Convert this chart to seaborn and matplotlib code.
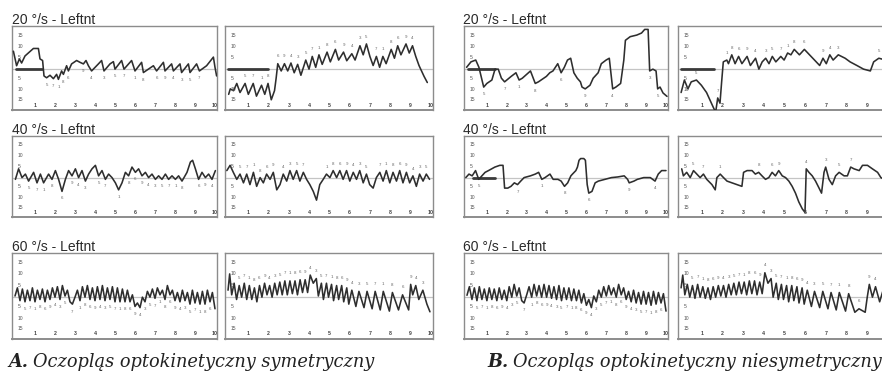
import numpy as np
import pandas as pd
import matplotlib
matplotlib.use("Agg")
import matplotlib.pyplot as plt
import seaborn as sns

sns.set_theme(style="white")
plt.rcParams['font.family'] = ['Liberation Sans', 'DejaVu Sans']

# ---------------- data (time [s], eye velocity) ----------------
row_titles = ["20 °/s - Leftnt", "40 °/s - Leftnt", "60 °/s - Leftnt"]
captions = [("A.", "Oczopląs optokinetyczny symetryczny"),
            ("B.", "Oczopląs optokinetyczny niesymetryczny")]
x_tick_labels = ["1", "2", "3", "4", "5", "6", "7", "8", "9", "10"]
y_tick_labels = ["15", "10", "5", "5", "10", "15"]
mark_digits = ["5", "7", "1", "8", "6", "9", "4", "3"]

# A, 20 deg/s, left eye
a20_l = [(-0.08,7.9),(0.08,1.5),(0.22,4.5),(0.33,2.7),(0.5,5.8),(0.92,9.1),(1.17,9.1),(1.25,4.5),
         (1.38,3.8),(1.45,-3),(1.58,-3.8),(1.75,-2.7),(1.92,-4.2),(2.08,-2.3),(2.17,-4.5),(2.33,-0.8),
         (2.42,-2.3),(2.58,1.5),(2.67,-0.8),(2.83,2.3),(3.08,3.8),(3.25,3.0),(3.42,2.3),(3.55,3.8),
         (3.67,1.5),(3.83,-0.8),(4.17,2.3),(4.33,3.8),(4.45,-0.8),(4.75,2.3),(4.92,3.3),(5.0,0.0),
         (5.33,3.8),(5.45,0.0),(5.83,3.8),(6.0,-0.8),(6.33,3.0),(6.42,-1.5),(6.92,1.5),(7.08,-0.8),
         (7.42,3.0),(7.5,-0.8),(7.83,2.3),(7.92,-0.8),(8.25,2.3),(8.33,-1.5),(8.67,2.3),(8.75,-1.5),
         (9.08,2.3),(9.22,-0.8),(9.58,1.5),(9.92,5.3),(10.0,0.8),(10.08,-3.0)]
# A, 20 deg/s, right eye
a20_r = [(0.03,-11.1),(0.11,-8.7),(0.27,-9.5),(0.43,-6.3),(0.59,-10.3),(0.84,-6.3),(1.0,-11.1),
         (1.24,-6.3),(1.4,-11.9),(1.65,-7.1),(1.81,-11.1),(1.97,-6.3),(2.13,-13.5),(2.29,-9.5),
         (2.37,-4.0),(2.45,2.4),(2.62,-0.8),(2.78,2.4),(2.94,-0.8),(3.1,2.7),(3.26,-1.6),(3.43,2.1),
         (3.59,-2.7),(3.83,4.0),(3.99,0.0),(4.15,5.6),(4.32,0.8),(4.48,6.3),(4.64,2.1),(4.88,7.5),
         (5.04,3.2),(5.29,8.7),(5.45,4.0),(5.69,7.5),(5.85,3.7),(6.1,6.8),(6.26,4.0),(6.5,10.3),
         (6.66,6.3),(6.82,11.1),(6.99,5.6),(7.15,1.6),(7.31,5.6),(7.47,0.8),(7.63,5.6),(7.79,2.4),
         (8.04,8.7),(8.2,4.8),(8.36,10.3),(8.52,6.3),(8.77,11.1),(8.93,7.1),(9.09,10.3),(9.25,5.6),
         (9.41,1.6),(9.66,-3.2),(9.82,-5.9)]
# B, 20 deg/s, left eye
b20_l = [(-0.02,0.8),(0.2,3.2),(0.44,4.0),(0.6,0.8),(0.84,-7.9),(1.0,-6.3),(1.25,-4.8),(1.41,0.0),
         (1.57,0.0),(1.73,-4.0),(1.89,-5.6),(2.22,-3.2),(2.46,-1.6),(2.62,-4.8),(2.78,-4.0),(3.19,-0.8),
         (3.43,-6.3),(3.59,-5.6),(3.99,-3.2),(4.16,-1.6),(4.32,-0.8),(4.56,2.4),(4.73,-1.6),(4.89,0.8),
         (5.05,4.0),(5.21,4.8),(5.37,-1.6),(5.54,-4.0),(5.7,-5.6),(5.78,-7.9),(5.94,-8.7),(6.18,-7.1),
         (6.34,-4.0),(6.59,-1.6),(6.75,2.4),(6.99,4.0),(7.15,4.8),(7.32,-8.7),(7.48,-7.9),(7.72,-6.3),
         (7.88,4.0),(7.96,12.7),(8.2,14.3),(8.53,15.0),(8.77,15.9),(8.93,17.5),(9.1,17.5),(9.18,-0.8),
         (9.34,0.0),(9.5,-0.8),(9.58,-8.7),(9.7,-7.9),(9.85,-10.5),(10.05,-12.0)]
# B, 20 deg/s, right eye
b20_r = [(0.0,-10.3),(0.16,-4.8),(0.33,-8.7),(0.49,-5.6),(0.74,-4.8),(0.98,-7.1),(1.23,-10.3),
         (1.39,-13.5),(1.55,-16.7),(1.67,-19.0),(1.77,-12.7),(1.88,-15.0),(1.96,-5.6),(2.04,3.2),
         (2.21,4.0),(2.29,2.4),(2.45,6.3),(2.61,2.4),(2.78,5.6),(2.94,2.4),(3.19,5.6),(3.35,1.6),
         (3.6,4.8),(3.76,0.0),(3.92,3.2),(4.09,4.8),(4.25,2.4),(4.41,5.6),(4.58,3.2),(4.82,5.6),
         (4.98,4.0),(5.15,7.1),(5.31,6.3),(5.47,8.7),(5.72,6.3),(5.96,8.7),(6.21,6.3),(6.45,4.0),
         (6.7,1.6),(6.86,4.8),(7.02,2.4),(7.19,6.3),(7.35,4.0),(7.6,6.3),(7.93,4.8),(8.17,3.2),
         (8.5,1.6),(8.82,0.0),(9.15,-0.8),(9.31,3.2),(9.56,4.8),(9.89,4.0)]
# A, 40 deg/s, left eye
a40_l = [(0.02,-0.8),(0.18,4.0),(0.35,0.0),(0.52,1.6),(0.68,-1.6),(0.93,2.4),(1.1,-2.4),(1.27,1.6),
         (1.43,-2.4),(1.68,1.6),(1.85,-0.8),(2.02,3.2),(2.18,-0.8),(2.35,-6.3),(2.52,-0.8),(2.68,3.2),
         (2.85,0.8),(3.02,4.0),(3.18,0.0),(3.35,3.2),(3.52,-1.6),(3.68,1.6),(3.85,4.0),(4.02,5.6),
         (4.18,0.8),(4.35,3.2),(4.52,-0.8),(4.68,1.6),(4.85,0.0),(5.02,-2.4),(5.18,-5.6),(5.35,-2.4),
         (5.52,2.4),(5.68,0.8),(5.85,4.8),(6.02,2.4),(6.18,4.0),(6.35,0.8),(6.52,2.4),(6.68,0.0),
         (6.85,1.6),(7.02,-0.8),(7.18,0.8),(7.35,-0.8),(7.52,1.6),(7.68,-0.8),(7.85,0.8),(8.02,-0.8),
         (8.18,0.8),(8.35,-1.6),(8.6,2.4),(8.77,7.1),(8.88,7.9),(9.02,4.0),(9.18,-0.8),(9.35,2.4),
         (9.52,0.0),(9.68,1.6),(9.85,-0.8),(10.02,3.2)]
# A, 40 deg/s, right eye
a40_r = [(-0.06,3.2),(0.1,5.6),(0.26,2.4),(0.43,-0.8),(0.59,1.6),(0.76,-2.4),(0.92,1.6),(1.08,-3.2),
         (1.25,2.4),(1.41,-4.0),(1.58,0.0),(1.74,-2.4),(1.9,1.6),(2.07,-0.8),(2.23,2.4),(2.4,-5.6),
         (2.56,-3.2),(2.72,1.6),(2.89,-1.6),(3.05,3.2),(3.21,-0.8),(3.38,3.2),(3.54,-1.6),(3.71,2.4),
         (3.87,-0.8),(4.03,-3.2),(4.2,-6.3),(4.36,-10.3),(4.52,-3.2),(4.69,-0.8),(4.85,1.6),(5.02,0.0),
         (5.18,3.2),(5.35,0.0),(5.51,3.2),(5.67,-0.8),(5.84,3.2),(6.0,-1.6),(6.17,2.4),(6.33,-0.8),
         (6.49,3.2),(6.66,-2.4),(6.82,1.6),(6.98,-3.2),(7.15,-4.8),(7.31,0.0),(7.48,2.4),(7.64,-1.6),
         (7.8,3.2),(7.97,-2.4),(8.13,2.4),(8.3,-1.6),(8.46,3.2),(8.62,-2.4),(8.79,2.4),(8.95,-2.4),
         (9.11,0.8),(9.28,-4.0),(9.44,1.6),(9.61,-1.6),(9.77,1.6),(9.93,-0.8)]
# B, 40 deg/s, left eye
b40_l = [(-0.06,0.0),(0.1,1.6),(0.26,0.8),(0.43,3.2),(0.59,-0.8),(0.75,0.8),(0.91,2.4),(1.08,3.2),
         (1.4,4.8),(1.65,5.6),(1.81,5.6),(1.89,-4.8),(2.05,-4.8),(2.21,-4.0),(2.38,-2.4),(2.54,-3.2),
         (2.7,-1.6),(2.87,0.0),(3.19,0.8),(3.43,1.6),(3.6,2.4),(3.76,-0.8),(3.92,0.0),(4.17,1.6),
         (4.33,-0.8),(4.57,-0.8),(4.73,-1.6),(4.9,-4.0),(5.06,-2.4),(5.22,0.8),(5.3,1.6),(5.47,3.2),
         (5.55,4.8),(5.63,7.9),(5.71,8.7),(5.87,8.7),(5.95,7.9),(6.04,-3.2),(6.12,-7.1),(6.28,-6.3),
         (6.44,-2.4),(6.6,-1.6),(6.93,-0.8),(7.26,0.0),(7.58,0.3),(7.9,0.8),(8.07,-0.8),(8.15,-2.4),
         (8.39,-1.6),(8.56,-0.8),(8.88,0.0),(9.21,0.0),(9.45,-1.6),(9.61,1.6),(9.78,3.2),(10.0,3.2)]
# B, 40 deg/s, right eye
b40_r = [(0.03,4.0),(0.11,0.8),(0.27,2.4),(0.44,0.0),(0.6,3.2),(0.76,1.6),(0.92,0.0),(1.08,1.6),
         (1.24,-0.8),(1.49,-3.2),(1.65,-5.6),(1.73,0.0),(1.89,1.6),(2.05,0.0),(2.22,-1.6),(2.46,-2.4),
         (2.7,-3.2),(2.94,-4.0),(3.02,2.4),(3.19,3.2),(3.43,3.2),(3.59,1.6),(3.75,2.4),(3.91,0.8),
         (4.08,-0.8),(4.24,0.0),(4.4,2.4),(4.56,0.8),(4.72,3.2),(4.89,0.8),(5.05,0.0),(5.21,-1.6),
         (5.37,-4.0),(5.53,-7.1),(5.69,-11.1),(5.86,-14.3),(5.99,-15.9),(6.05,4.0),(6.18,2.4),
         (6.34,0.8),(6.5,-1.6),(6.67,-4.8),(6.79,-7.1),(6.91,2.4),(6.99,4.8),(7.15,-0.8),(7.31,-3.2),
         (7.47,0.8),(7.64,2.4),(7.88,0.8),(8.04,0.8),(8.2,4.8),(8.36,4.0),(8.61,3.2),(8.77,5.6),
         (9.01,5.6),(9.25,4.0),(9.5,2.4),(9.66,0.0),(9.82,-0.8)]
# A, 60 deg/s, left eye
a60_l = [(0.0,0.5),(0.12,4),(0.25,-1.5),(0.37,3.5),(0.5,-2),(0.62,3),(0.75,-1.5),(0.87,4),(1.0,-2),
         (1.12,3),(1.25,-1),(1.37,3.5),(1.5,-2),(1.62,3),(1.75,-1),(1.87,4),(2.0,0),(2.12,4.5),
         (2.25,-1),(2.37,5),(2.5,0.5),(2.62,3),(2.75,-2),(2.87,-3),(3.0,0),(3.12,3),(3.25,-1.5),
         (3.37,4.5),(3.5,0),(3.62,5),(3.75,-1),(3.87,4),(4.0,-1.5),(4.12,4.5),(4.25,-1),(4.37,5),
         (4.5,-1.5),(4.62,4),(4.75,-1),(4.87,4.5),(5.0,-2),(5.12,4),(5.25,-2),(5.37,3.5),(5.5,-2),
         (5.62,3),(5.75,-2),(5.87,1),(6.0,-4),(6.12,-2.5),(6.25,-4.5),(6.37,0),(6.5,-2),(6.62,2.5),
         (6.75,0),(6.87,3.5),(7.0,-0.5),(7.12,4),(7.25,1),(7.37,3),(7.5,-1),(7.62,5),(7.75,1),(7.87,3),
         (8.0,-1.5),(8.12,2),(8.25,-2),(8.37,3),(8.5,-1.5),(8.62,2),(8.75,-3),(8.87,3),(9.0,-2.5),
         (9.12,2),(9.25,-3),(9.37,2.5),(9.5,-3),(9.62,3),(9.75,-2),(9.87,2),(10.0,-5)]
# A, 60 deg/s, right eye
a60_r = [(0.0,3),(0.08,10),(0.18,1),(0.3,6),(0.42,-1),(0.55,5),(0.67,0),(0.8,6),(0.92,-1),(1.05,5),
         (1.17,-1),(1.3,4),(1.42,-2),(1.55,5),(1.67,0),(1.8,6),(1.92,1),(2.05,5),(2.17,0),(2.3,6),
         (2.42,1),(2.55,6.5),(2.67,1),(2.8,7),(2.92,1),(3.05,7),(3.17,1.5),(3.3,7),(3.42,1),(3.55,7.5),
         (3.67,2),(3.8,7.5),(3.92,2),(4.05,9.5),(4.2,6),(4.35,8),(4.45,0.5),(4.6,6),(4.7,-1),(4.85,6),
         (4.95,0),(5.1,5.5),(5.2,-1.5),(5.35,5),(5.45,-1),(5.6,5),(5.7,-2),(5.85,4),(5.95,-3),(6.1,3),
         (6.3,-4),(6.45,2.5),(6.7,-4.5),(6.85,2.5),(7.1,-5),(7.25,2.5),(7.5,-5.5),(7.65,2.5),(7.95,-6),
         (8.1,2),(8.4,-5.5),(8.6,1),(8.9,-5.5),(9.0,5.5),(9.1,1),(9.25,5),(9.4,-1),(9.6,3),(9.8,-3),
         (9.95,-6.3)]
# B, 60 deg/s, left eye
b60_l = [(0.0,0.8),(0.12,4.5),(0.25,-1),(0.37,4),(0.5,-1.5),(0.62,4.5),(0.75,-1),(0.87,3.5),
         (1.0,-1.5),(1.12,4),(1.25,-1),(1.37,3.5),(1.5,-1.5),(1.62,4),(1.75,-1),(1.87,3),(2.0,-1.5),
         (2.12,4.5),(2.25,0),(2.37,5.5),(2.5,0.5),(2.62,4),(2.75,-1.5),(2.87,-2.5),(3.0,1),(3.12,4.5),
         (3.25,0),(3.37,5.5),(3.5,0.5),(3.62,5),(3.75,0),(3.87,5.5),(4.0,0),(4.12,5),(4.25,-0.5),
         (4.37,4.5),(4.5,-1),(4.62,5),(4.75,-1.5),(4.87,4),(5.0,-1),(5.12,4),(5.25,-1.5),(5.37,3.5),
         (5.5,-1.5),(5.62,3),(5.75,-2.5),(5.87,1.5),(6.0,-3.5),(6.12,-1),(6.25,-4.5),(6.37,0.5),
         (6.5,-2),(6.62,3),(6.75,0),(6.87,4.5),(7.0,0.5),(7.12,5),(7.25,1),(7.37,4),(7.5,0),(7.62,5.5),
         (7.75,1),(7.87,4),(8.0,-1),(8.12,2.5),(8.25,-2),(8.37,3),(8.5,-2.5),(8.62,2),(8.75,-3),
         (8.87,2.5),(9.0,-3),(9.12,2),(9.25,-3.5),(9.37,2.5),(9.5,-3),(9.62,2),(9.75,-2.5),(9.87,1.5),
         (10.0,-6)]
# B, 60 deg/s, right eye
b60_r = [(0.0,4),(0.08,9.5),(0.18,1),(0.3,5.5),(0.42,0),(0.55,5),(0.67,-0.5),(0.8,5.5),(0.92,0),
         (1.05,4.5),(1.17,-0.5),(1.3,4),(1.42,-1),(1.55,4.5),(1.67,0),(1.8,5),(1.92,0.5),(2.05,5),
         (2.17,0),(2.3,5.5),(2.42,1),(2.55,6),(2.67,1),(2.8,6.5),(2.92,1.5),(3.05,6.5),(3.17,1),(3.3,7),
         (3.42,1.5),(3.55,7),(3.67,1),(3.8,6.5),(3.92,1.5),(4.05,10.5),(4.2,6),(4.35,8),(4.45,0),
         (4.6,6),(4.7,-1),(4.85,5.5),(4.95,-1),(5.1,5),(5.2,-2),(5.35,5),(5.45,-1.5),(5.6,4.5),
         (5.7,-2.5),(5.85,4),(5.95,-3),(6.1,3),(6.3,-4),(6.45,2.5),(6.7,-4.5),(6.85,2.5),(7.1,-5),
         (7.25,2),(7.5,-5.5),(7.65,2),(7.95,-6),(8.1,1.5),(8.4,-6.5),(8.6,-5),(8.9,-6.5),(9.0,0),
         (9.1,5.5),(9.25,0),(9.4,4.5),(9.6,-2),(9.75,2.5),(9.95,-4)]

# "Horizontal" reference marker segments: (t_start, t_end, level)
horiz_a20_l = (0.05, 1.35, 0.0)
horiz_a20_r = (0.0, 1.95, 0.0)
horiz_b20_l = (0.05, 1.4, 0.0)
horiz_b20_r = (0.0, 1.6, 0.0)
horiz_b40_l = (0.3, 1.4, 0.0)

# ---------------- layout (pixels in the 882x377 image) ----------------
W, H = 882, 377
col_px = [(12, 217), (225, 433), (464, 668), (678, 890)]
row_px = [(26, 110), (136, 217), (253, 339)]
title_y = [20, 130, 247]
title_x = [12, 463]

panels = [[a20_l, a20_r, b20_l, b20_r],
          [a40_l, a40_r, b40_l, b40_r],
          [a60_l, a60_r, b60_l, b60_r]]
horiz = {(0, 0): horiz_a20_l, (0, 1): horiz_a20_r, (0, 2): horiz_b20_l,
         (0, 3): horiz_b20_r, (1, 2): horiz_b40_l}

fig = plt.figure(figsize=(W / 100, H / 100), dpi=100)
fig.patch.set_facecolor("white")

trace_color = "#2e2e2e"
frame_color = "#8c8c8c"
y_label_pos = [15, 10, 5, -4, -9, -13.5]
t_visible_max = 9.7   # right-most panels are cut by the page edge

for r in range(3):
    for c in range(4):
        x0, x1 = col_px[c]
        y0, y1 = row_px[r]
        ax = fig.add_axes([x0 / W, 1 - y1 / H, (x1 - x0) / W, (y1 - y0) / H])
        df = pd.DataFrame(panels[r][c], columns=["t", "v"])
        ax.axhline(0, color="#c4c4c4", lw=0.9, zorder=1)
        if (r, c) in horiz:
            hs, he, hv = horiz[(r, c)]
            ax.plot([hs, he], [hv, hv], color="#3a3a3a", lw=2.0, zorder=2)
        sns.lineplot(data=df, x="t", y="v", ax=ax, sort=False, estimator=None,
                     color=trace_color, linewidth=1.15, legend=False, zorder=3)
        ax.set_xlim(-0.15, 10.1)
        ax.set_ylim(-18, 19)
        ax.set_xticks([])
        ax.set_yticks([])
        ax.set_xlabel("")
        ax.set_ylabel("")
        for s in ax.spines.values():
            s.set_color(frame_color)
            s.set_linewidth(1.0)
        ax.spines["bottom"].set_linewidth(1.4)
        tmax = t_visible_max if c == 3 else 10.5
        # inner y labels
        for yl, yp in zip(y_tick_labels, y_label_pos):
            ax.text(0.12, yp, yl, fontsize=3.6, color="#555555", ha="left", va="center")
        # inner x labels
        for i, xl in enumerate(x_tick_labels):
            if i + 1 > tmax:
                continue
            ax.text(i + 1, -15.8, xl, fontsize=3.8, color="#444444", ha="center", va="center",
                    fontweight="bold")
        # small beat markers at extrema
        v = df["v"].to_numpy()
        t = df["t"].to_numpy()
        k = 0
        for i in range(1, len(v) - 1):
            if t[i] < 0.45 or t[i] > tmax:
                continue
            if c in (0, 2):
                if v[i] < v[i - 1] and v[i] < v[i + 1]:
                    ax.text(t[i], v[i] - 3.2, mark_digits[k % len(mark_digits)], fontsize=3.2,
                            color="#666666", ha="center", va="center")
                    k += 1
            else:
                if v[i] > v[i - 1] and v[i] > v[i + 1]:
                    ax.text(t[i], v[i] + 3.2, mark_digits[k % len(mark_digits)], fontsize=3.2,
                            color="#666666", ha="center", va="center")
                    k += 1

# row titles
for r in range(3):
    for tx in title_x:
        fig.text(tx / W, 1 - title_y[r] / H, row_titles[r], fontsize=10, color="#2a2a2a",
                 ha="left", va="center")

# captions
renderer = fig.canvas.get_renderer()
cap_x = [8, 487]
for (lead, rest), cx in zip(captions, cap_x):
    t1 = fig.text(cx / W, 1 - 362 / H, lead, fontsize=12.8, fontstyle="italic",
                  fontweight="bold", family="DejaVu Serif", color="#222222",
                  ha="left", va="center")
    bb = t1.get_window_extent(renderer=renderer)
    fig.text((bb.x1 + 5) / W, 1 - 362 / H, rest, fontsize=12.8, fontstyle="italic",
             family="DejaVu Serif", color="#222222", ha="left", va="center")

fig.savefig("out.png", dpi=100, facecolor="white")
